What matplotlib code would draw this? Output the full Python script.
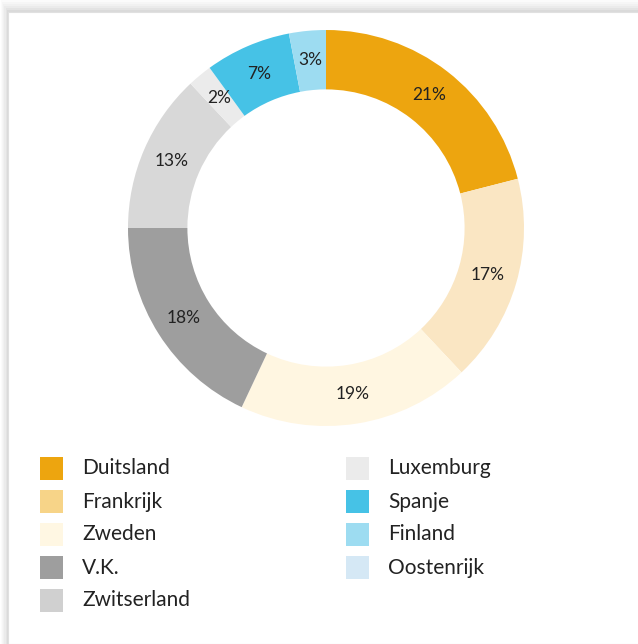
import matplotlib.pyplot as plt
from matplotlib.patches import Rectangle

plt.rcParams['font.family'] = ['Lato', 'DejaVu Sans']

countries = ['Duitsland', 'Frankrijk', 'Zweden', 'V.K.', 'Zwitserland',
             'Luxemburg', 'Spanje', 'Finland', 'Oostenrijk']
shares = [21, 17, 19, 18, 13, 2, 7, 3, 0]

slice_colors = ['#EDA50F', '#FAE6C3', '#FFF6E1', '#9E9E9E', '#D8D8D8',
                '#EBEBEB', '#46C2E6', '#9DDCF1', '#D5E8F5']
legend_colors = ['#EDA50F', '#F7D488', '#FFF7E3', '#9E9E9E', '#D0D0D0',
                 '#EBEBEB', '#46C2E6', '#9DDCF1', '#D5E8F5']

W, H = 638, 644
fig = plt.figure(figsize=(W / 100, H / 100), dpi=100)
fig.patch.set_facecolor('#ffffff')

# card with a soft shadow at the top/left
for i, a in enumerate([0.05, 0.06, 0.07, 0.08, 0.1, 0.12]):
    off = 12 - 2 * i
    fig.add_artist(Rectangle(((8 - off * 0.6) / W, 0), 1, (H - 12 + off) / H,
                             transform=fig.transFigure, facecolor='#000000',
                             alpha=a * 0.3, edgecolor='none', zorder=0))
fig.add_artist(Rectangle((8 / W, 0), 1, (H - 12) / H, transform=fig.transFigure,
                         facecolor='white', edgecolor='#e0e0e0', lw=0.8, zorder=1))

# donut
cx, cy, r = 326, H - 228, 198
ax = fig.add_axes([(cx - r) / W, (cy - r) / H, 2 * r / W, 2 * r / H])
ax.set_zorder(2)
wedges, _, pcts = ax.pie(shares, colors=slice_colors, startangle=90, counterclock=False,
                         radius=1, wedgeprops=dict(width=0.3, edgecolor='none'),
                         autopct=lambda p: f'{p:.0f}%' if p > 0.5 else '',
                         pctdistance=0.85,
                         textprops=dict(fontsize=12.5, color='#222222'))
ax.set_xlim(-1, 1)
ax.set_ylim(-1, 1)
ax.set_aspect('equal')
ax.axis('off')

# legend
x_cols = [40, 346]
y0, dy, sq = 457, 33, 23
for i, (name, col) in enumerate(zip(countries, legend_colors)):
    col_i = 0 if i < 5 else 1
    row = i if i < 5 else i - 5
    x = x_cols[col_i]
    y = y0 + row * dy
    fig.add_artist(Rectangle((x / W, (H - y - sq) / H), sq / W, sq / H,
                             transform=fig.transFigure, facecolor=col,
                             edgecolor='none', zorder=3))
    fig.text((x + 42) / W, (H - y - sq / 2) / H, name, fontsize=15,
             color='#222222', va='center', ha='left', zorder=3)

fig.savefig('out.png', dpi=100)
